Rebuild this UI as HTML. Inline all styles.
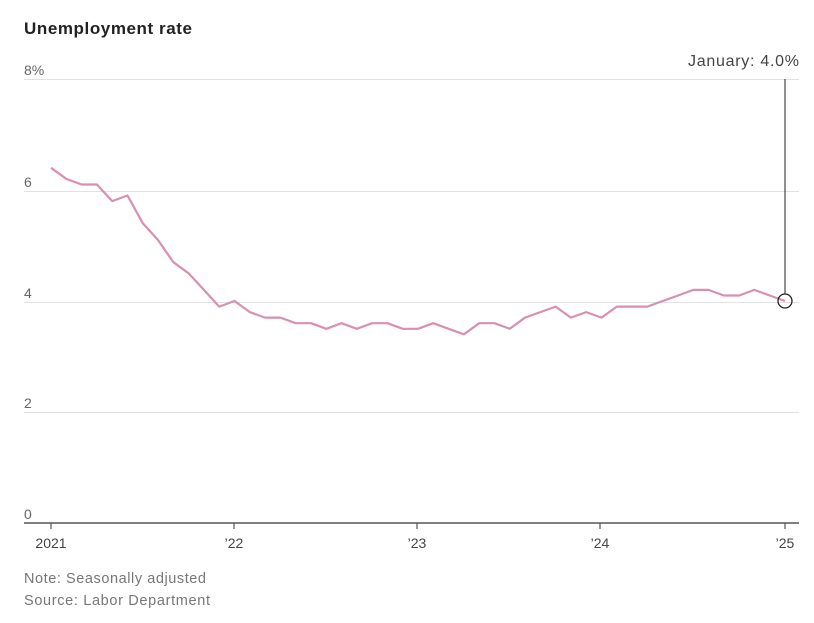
<!DOCTYPE html>
<html><head><meta charset="utf-8"><style>
body{margin:0;background:#fff;width:814px;height:618px;overflow:hidden;font-family:"Liberation Sans",sans-serif;}
</style></head><body>
<svg id="s" width="814" height="618" xmlns="http://www.w3.org/2000/svg" font-family="Liberation Sans, sans-serif">
<text x="24" y="34" font-size="17" font-weight="bold" fill="#222" textLength="168">Unemployment rate</text>
<g stroke="#e2e2e2" stroke-width="1">
<line x1="24" x2="799" y1="79.5" y2="79.5"/>
<line x1="24" x2="799" y1="191.5" y2="191.5"/>
<line x1="24" x2="799" y1="302.5" y2="302.5"/>
<line x1="24" x2="799" y1="412.5" y2="412.5"/>
</g>
<line x1="24" x2="799" y1="523" y2="523" stroke="#555" stroke-width="1.5"/>
<g fill="#666" font-size="14">
<text x="24" y="75">8%</text>
<text x="24" y="187">6</text>
<text x="24" y="298">4</text>
<text x="24" y="408">2</text>
<text x="24" y="519">0</text>
</g>
<g stroke="#555" stroke-width="1.2">
<line x1="51" x2="51" y1="523" y2="529"/><line x1="234" x2="234" y1="523" y2="529"/>
<line x1="417" x2="417" y1="523" y2="529"/><line x1="600" x2="600" y1="523" y2="529"/>
<line x1="785" x2="785" y1="523" y2="529"/>
</g>
<g fill="#444" font-size="14" text-anchor="middle">
<text x="51" y="548">2021</text><text x="234" y="548">’22</text><text x="417" y="548">’23</text>
<text x="600" y="548">’24</text><text x="785" y="548">’25</text>
</g>
<g fill="#777" font-size="14.5">
<text x="24" y="583" textLength="182">Note: Seasonally adjusted</text>
<text x="24" y="605" textLength="186">Source: Labor Department</text>
</g>
<polyline id="p" fill="none" stroke="#d88fb0" stroke-width="2.2" stroke-linejoin="round"/>
<line x1="785" x2="785" y1="79" y2="294" stroke="#222" stroke-width="1"/>
<circle cx="785" cy="301" r="7" fill="none" stroke="#222" stroke-width="1.3"/>
<text x="799" y="66" font-size="16" fill="#444" text-anchor="end" textLength="111">January: 4.0%</text>
</svg>
<script>
var d=[6.4,6.2,6.1,6.1,5.8,5.9,5.4,5.1,4.7,4.5,4.2,3.9,4.0,3.8,3.7,3.7,3.6,3.6,3.5,3.6,3.5,3.6,3.6,3.5,3.5,3.6,3.5,3.4,3.6,3.6,3.5,3.7,3.8,3.9,3.7,3.8,3.7,3.9,3.9,3.9,4.0,4.1,4.2,4.2,4.1,4.1,4.2,4.1,4.0];
var pts=d.map(function(v,i){return (51+i*(734/48)).toFixed(1)+","+(523-v*55.5).toFixed(1)}).join(" ");
document.getElementById("p").setAttribute("points",pts);
</script>
</body></html>
